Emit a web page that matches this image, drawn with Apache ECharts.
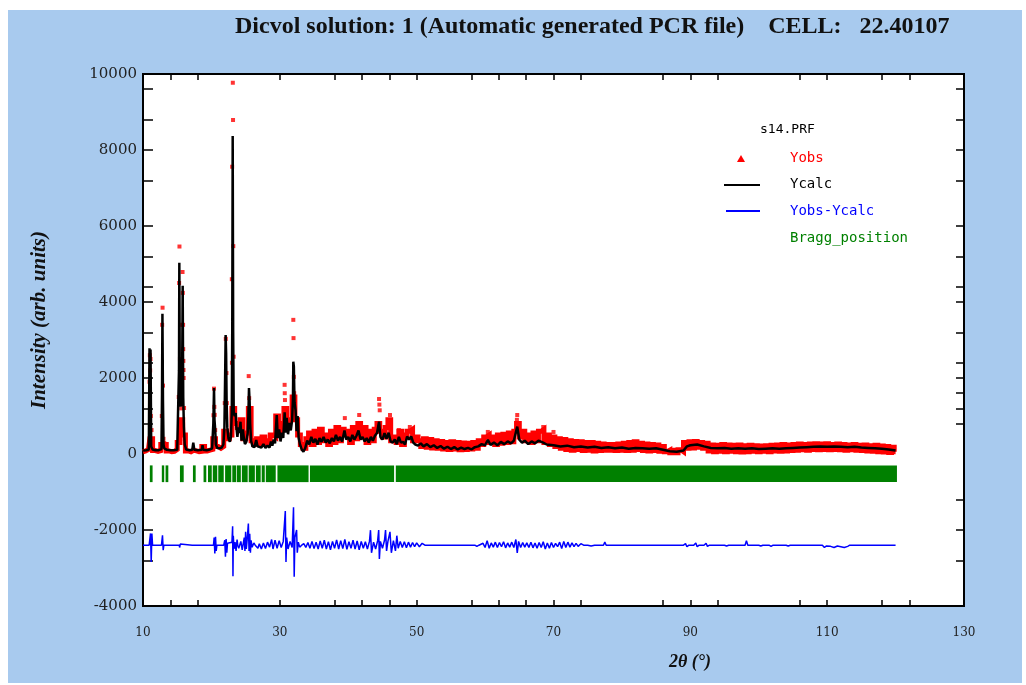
<!DOCTYPE html>
<html>
<head>
<meta charset="utf-8">
<script src="https://cdn.jsdelivr.net/npm/echarts@6/dist/echarts.min.js"></script>
<style>
  html, body { margin: 0; padding: 0; background: #fff; }
  #panel { position: absolute; left: 8px; top: 10px; width: 1014px; height: 673px; background: #a8caee; }
  #chart { position: absolute; left: 0; top: 0; width: 1026px; height: 685px; }
</style>
</head>
<body>
<div id="panel"></div>
<div id="chart"></div>
<script>
// 计算曲线 Ycalc [2θ, intensity]
const ycalc = [
  [10.0, 90], [10.5, 100], [10.85, 120], [10.95, 2780], [11.02, 1300], [11.1, 2750], [11.2, 200], [11.4, 120],
  [11.8, 100], [12.3, 100], [12.7, 130], [12.78, 1600], [12.84, 3690], [12.92, 1400], [13.0, 250], [13.1, 150],
  [13.5, 110], [14.0, 100], [14.5, 100], [15.0, 110], [15.2, 150], [15.26, 2200], [15.31, 5030], [15.38, 1800],
  [15.5, 1250], [15.65, 1400], [15.74, 2600], [15.8, 4430], [15.88, 1500], [15.98, 700], [16.1, 250], [16.3, 120],
  [16.8, 100], [17.2, 110], [17.35, 300], [17.5, 110], [18.0, 100], [18.6, 110], [18.7, 230], [18.8, 110],
  [19.3, 100], [19.8, 120], [20.1, 150], [20.28, 800], [20.38, 1737], [20.45, 900], [20.55, 650], [20.65, 250],
  [20.85, 160], [21.2, 150], [21.5, 170], [21.75, 250], [21.9, 700], [22.0, 2000], [22.08, 3130], [22.15, 2650],
  [22.22, 1400], [22.32, 700], [22.5, 400], [22.7, 320], [22.85, 450], [22.98, 1100], [23.05, 3500], [23.11, 8370],
  [23.18, 3200], [23.26, 1080], [23.4, 1000], [23.55, 1080], [23.65, 700], [23.8, 450], [23.95, 700], [24.1, 550],
  [24.25, 850], [24.4, 350], [24.6, 650], [24.75, 400], [24.9, 260], [25.1, 320], [25.3, 550], [25.4, 1000],
  [25.49, 1737], [25.58, 1400], [25.66, 800], [25.8, 350], [26.0, 200], [26.3, 180], [26.55, 370], [26.75, 200],
  [27.0, 240], [27.3, 170], [27.6, 260], [27.9, 160], [28.2, 220], [28.5, 170], [28.7, 330], [28.9, 220],
  [29.1, 380], [29.3, 280], [29.55, 1026], [29.7, 420], [29.9, 650], [30.1, 330], [30.3, 560], [30.5, 420],
  [30.7, 1100], [30.85, 560], [31.0, 950], [31.2, 520], [31.4, 820], [31.6, 620], [31.8, 900], [31.92, 1500],
  [31.97, 2430], [32.05, 2300], [32.15, 1350], [32.3, 1150], [32.45, 600], [32.6, 1000], [32.75, 420], [32.95, 250],
  [33.2, 120], [33.45, 60], [33.7, 150], [34.0, 350], [34.3, 250], [34.6, 450], [34.9, 300], [35.2, 400],
  [35.5, 250], [35.8, 420], [36.1, 320], [36.4, 450], [36.7, 300], [37.0, 380], [37.3, 280], [37.6, 420],
  [37.9, 330], [38.2, 500], [38.5, 350], [38.8, 450], [39.1, 330], [39.45, 620], [39.7, 380], [40.0, 450],
  [40.3, 330], [40.6, 500], [40.9, 380], [41.2, 480], [41.5, 620], [41.8, 380], [42.1, 450], [42.4, 330],
  [42.7, 420], [43.0, 300], [43.3, 450], [43.6, 350], [43.9, 480], [44.2, 550], [44.5, 850], [44.7, 450],
  [45.0, 380], [45.3, 550], [45.6, 400], [45.9, 560], [46.2, 330], [46.5, 300], [46.8, 380], [47.1, 260],
  [47.4, 450], [47.7, 300], [48.0, 320], [48.3, 250], [48.6, 460], [48.9, 380], [49.2, 460], [49.5, 300],
  [49.8, 250], [50.2, 220], [50.6, 280], [51.0, 200], [51.5, 260], [52.0, 180], [52.5, 230], [53.0, 160],
  [53.5, 210], [54.0, 140], [54.5, 190], [55.0, 130], [55.5, 180], [56.0, 120], [56.5, 170], [57.0, 130],
  [57.5, 160], [58.0, 120], [58.5, 180], [59.0, 200], [59.5, 260], [60.0, 230], [60.4, 370], [60.8, 240],
  [61.3, 300], [61.8, 230], [62.3, 320], [62.8, 260], [63.3, 330], [63.8, 280], [64.2, 350], [64.7, 720],
  [65.0, 380], [65.4, 300], [65.8, 350], [66.3, 260], [66.8, 330], [67.3, 280], [67.8, 350], [68.5, 300],
  [69.0, 250], [70, 230], [71, 200], [72, 220], [73, 180], [74, 200], [75, 170], [76, 190],
  [77, 160], [78, 180], [79, 150], [80, 170], [81, 140], [82, 160], [83, 150], [84, 140],
  [85, 150], [86, 110], [87, 70], [88, 60], [89, 90], [89.5, 200], [90, 230], [91, 250],
  [92, 200], [93, 160], [94, 150], [95, 160], [96, 140], [97, 150], [98, 140], [99, 150],
  [100, 130], [101, 140], [102, 150], [103, 140], [104, 150], [105, 160], [106, 170], [107, 180],
  [108, 190], [109, 200], [110, 190], [111, 200], [112, 190], [113, 180], [114, 190], [115, 170],
  [116, 160], [117, 150], [118, 140], [119, 120], [120, 90]
]

// 观测值 Yobs：背景带
const yobsBand = [
  [10.0, 60], [10.4, 80], [10.8, 120], [11.2, 400], [11.6, 90], [12.0, 70], [12.4, 90], [12.8, 250],
  [13.2, 250], [13.6, 80], [14.0, 60], [14.4, 70], [14.8, 120], [15.2, 300], [15.6, 900], [16.0, 500],
  [16.4, 80], [16.8, 60], [17.2, 100], [17.6, 80], [18.0, 60], [18.4, 70], [18.8, 200], [19.2, 80],
  [19.6, 100], [20.0, 120], [20.4, 400], [20.8, 200], [21.2, 150], [21.6, 200], [22.0, 600],
  [22.4, 400], [22.8, 500], [23.2, 1200], [23.6, 800], [24.0, 700], [24.4, 900], [24.8, 400], [25.2, 550],
  [25.6, 1200], [26.0, 350], [26.4, 250], [26.8, 400], [27.2, 250], [27.6, 450], [28.0, 250], [28.4, 350],
  [28.8, 500], [29.2, 450], [29.6, 1000], [30.0, 600], [30.4, 800], [30.8, 1200], [31.2, 800], [31.6, 900],
  [32.0, 1500], [32.4, 900], [32.8, 500], [33.2, 250], [33.6, 150], [34.0, 400],
  [34.4, 550], [34.8, 250], [35.2, 600], [35.6, 300], [36.0, 650], [36.4, 350], [36.8, 500], [37.2, 250],
  [37.6, 600], [38.0, 300], [38.4, 700], [38.8, 350], [39.2, 650], [39.6, 500], [40.0, 600], [40.4, 300],
  [40.8, 700], [41.2, 400], [41.6, 800], [42.0, 450], [42.4, 700], [42.8, 300], [43.2, 600], [43.6, 350],
  [44.0, 650], [44.4, 800], [44.8, 600], [45.2, 450], [45.6, 700], [46.0, 900], [46.4, 350], [46.8, 450],
  [47.2, 300], [47.6, 600], [48.0, 250], [48.4, 500], [48.8, 600], [49.2, 650], [49.6, 350], [50.0, 450],
  [50.4, 350], [50.8, 200], [51.2, 400], [51.6, 180], [52.0, 380], [52.4, 160], [52.8, 350], [53.2, 150],
  [53.6, 330], [54.0, 130], [54.4, 300], [54.8, 120], [55.2, 320], [55.6, 130], [56.0, 300], [56.4, 110],
  [56.8, 290], [57.2, 120], [57.6, 280], [58.0, 130], [58.4, 300], [58.8, 150], [59.2, 350], [59.6, 250],
  [60.0, 450], [60.4, 500], [60.8, 300], [61.2, 450], [61.6, 250], [62.0, 500], [62.4, 280], [62.8, 520],
  [63.2, 300], [63.6, 550], [64.0, 320], [64.4, 600], [64.8, 800], [65.2, 450], [65.6, 600], [66.0, 350],
  [66.4, 500], [66.8, 300], [67.2, 550], [67.6, 350], [68.0, 600], [68.4, 650], [68.8, 300], [69.2, 500],
  [69.6, 250], [70.0, 450], [70.4, 200], [70.8, 400], [71.2, 150], [71.6, 380], [72.0, 120], [72.4, 350],
  [72.8, 100], [73.2, 330], [73.6, 120], [74.0, 320], [74.4, 90], [74.8, 300], [75.2, 100], [75.6, 300],
  [76.0, 80], [76.4, 280], [76.8, 90], [77.2, 260], [77.6, 100], [78.0, 250], [78.4, 100], [78.8, 250],
  [79.2, 90], [79.6, 260], [80.0, 100], [80.4, 280], [80.8, 90], [81.2, 300], [81.6, 100], [82.0, 320],
  [82.4, 120], [82.8, 280], [83.2, 90], [83.6, 260], [84.0, 80], [84.4, 250], [84.8, 90], [85.2, 240],
  [85.6, 70], [86.0, 200], [86.4, 60], [86.8, 100], [87.2, 30], [87.6, 100], [88.0, 30], [88.4, 110],
  [88.8, 60], [89.2, 300], [89.6, 150], [90.0, 320], [90.4, 160], [90.8, 330], [91.2, 180], [91.6, 300],
  [92.0, 150], [92.4, 280], [92.8, 80], [93.2, 240], [93.6, 60], [94.0, 230], [94.4, 70], [94.8, 250],
  [95.2, 60], [95.6, 240], [96.0, 70], [96.4, 230], [96.8, 60], [97.2, 240], [97.6, 50], [98.0, 220],
  [98.4, 60], [98.8, 230], [99.2, 70], [99.6, 220], [100.0, 60], [100.4, 210], [100.8, 70], [101.2, 220],
  [101.6, 60], [102.0, 230], [102.4, 80], [102.8, 240], [103.2, 70], [103.6, 250], [104.0, 80], [104.4, 240],
  [104.8, 90], [105.2, 250], [105.6, 100], [106.0, 260], [106.4, 110], [106.8, 250], [107.2, 100], [107.6, 260],
  [108.0, 120], [108.4, 270], [108.8, 110], [109.2, 260], [109.6, 120], [110.0, 270], [110.4, 110], [110.8, 250],
  [111.2, 120], [111.6, 260], [112.0, 110], [112.4, 250], [112.8, 100], [113.2, 240], [113.6, 110], [114.0, 250],
  [114.4, 100], [114.8, 230], [115.2, 90], [115.6, 240], [116.0, 80], [116.4, 220], [116.8, 70], [117.2, 230],
  [117.6, 60], [118.0, 210], [118.4, 50], [118.8, 200], [119.2, 40], [119.6, 180], [120.0, 60]
]

// 观测值 Yobs：峰位附近的点
const yobsPeaks = [
  [10.9, 300], [10.95, 1900], [11.0, 2600], [11.05, 2200], [11.1, 2500], [11.15, 1000], [11.25, 630], [11.35, 200],
  [12.75, 1000], [12.8, 3400], [12.86, 3850], [12.92, 1800], [13.0, 400], [13.1, 290], [15.0, 290],
  [15.22, 1500], [15.28, 4500], [15.33, 5460], [15.4, 2500], [15.5, 1400], [15.6, 1200], [15.72, 3400],
  [15.78, 4790], [15.82, 4240], [15.86, 3400], [15.88, 2760], [15.9, 2450], [15.92, 2210], [15.94, 2000], [16.0, 1210],
  [16.1, 400], [20.25, 400], [20.3, 1020], [20.38, 1720], [20.43, 1240], [20.48, 1030], [20.55, 630],
  [21.95, 1340], [22.1, 3030], [22.2, 2130], [22.25, 1340], [22.98, 4600], [23.0, 2400], [23.03, 7560],
  [23.13, 9770], [23.16, 8790], [23.2, 5470], [23.25, 2560], [25.35, 700], [25.45, 2050], [25.52, 1470],
  [25.6, 1200], [30.6, 800], [30.7, 1820], [30.72, 1600], [30.75, 1420], [30.9, 700], [31.85, 1000],
  [31.97, 3530], [32.0, 3050], [32.05, 2030], [32.1, 1600], [32.12, 1420], [32.15, 1160], [39.5, 945],
  [41.6, 1026], [42.3, 710], [44.5, 1447], [44.55, 1300], [44.6, 1150], [46.1, 1026], [47.4, 630],
  [49.0, 710], [60.4, 580], [64.65, 900], [64.7, 1026], [64.75, 800], [68.5, 710], [70.0, 580]
]

// 差值曲线 Yobs-Ycalc（相对值）
const diffOffset = -2400
const ydiff = [
  [10, 0], [10.9, 0], [11.0, -50], [11.1, 310], [11.2, -440], [11.3, 310], [11.4, 0],
  [12.7, 0], [12.85, 260], [12.95, -130], [13.05, 0], [15.3, 0], [15.35, -60], [15.45, 30], [15.55, 0],
  [17.2, 0], [20.3, 0], [20.4, 200], [20.5, -220], [20.6, 220], [20.7, -150], [20.8, 0],
  [21.8, 0], [21.95, 130], [22.05, -300], [22.15, 160], [22.25, -200], [22.35, 50], [22.5, 0],
  [23.0, 80], [23.1, 500], [23.15, -820], [23.2, 250], [23.3, -100], [23.45, 80], [23.6, -150], [23.75, 150], [23.85, 0],
  [24.0, -80], [24.3, 100], [24.5, -120], [24.8, 200], [24.9, -150], [25.0, 350], [25.1, -100], [25.25, 200],
  [25.4, 570], [25.5, -150], [25.6, 300], [25.7, -200], [25.8, 130], [25.95, -50], [26.2, 60], [26.4, 0],
  [26.8, -80], [27.0, 40], [27.3, -100], [27.6, 60], [27.9, -90], [28.2, 80], [28.5, -50], [28.8, 150],
  [29.0, -100], [29.3, 130], [29.6, -80], [29.9, 120], [30.2, -60], [30.5, 100], [30.8, 900], [30.9, -440],
  [31.0, 200], [31.2, -100], [31.5, 100], [31.8, -60], [32.0, 1000], [32.1, -830], [32.2, 200], [32.45, 400],
  [32.55, -200], [32.7, 80], [32.9, -50], [33.2, 0], [33.5, 40], [33.8, -60], [34.1, 70], [34.4, -80],
  [34.7, 100], [35.0, -90], [35.3, 80], [35.6, -100], [35.9, 110], [36.2, -80], [36.5, 130], [36.8, -100],
  [37.1, 90], [37.4, -120], [37.7, 100], [38.0, -80], [38.3, 140], [38.6, -100], [38.9, 120], [39.2, -90],
  [39.5, 150], [39.8, -110], [40.1, 90], [40.4, -80], [40.7, 130], [41.0, -100], [41.3, 110], [41.6, -120],
  [41.9, 100], [42.2, -80], [42.5, 90], [42.8, -100], [43.1, 100], [43.25, 395], [43.4, -200], [43.7, 80],
  [44.0, -100], [44.3, 120], [44.45, 400], [44.55, -360], [44.7, 100], [45.0, -80], [45.3, 130], [45.45, 400],
  [45.6, -150], [45.8, 100], [46.1, 350], [46.3, -200], [46.6, 120], [46.9, -150], [47.1, 250], [47.3, -80],
  [47.6, 100], [47.9, -60], [48.2, 90], [48.5, -70], [48.8, 80], [49.1, -50], [49.4, 70], [49.7, -40],
  [50.0, 60], [50.4, -40], [50.8, 50], [51.2, 0], [52.0, 0], [52.2, -40], [52.4, 0], [54.0, 0],
  [54.2, 30], [54.4, 0], [55.5, 0], [55.7, -30], [55.9, 0], [58.5, 0], [58.8, -30], [59.1, 0],
  [59.7, 50], [60.0, -60], [60.3, 120], [60.6, -80], [60.9, 60], [61.2, -50], [61.5, 80], [61.8, -60],
  [62.1, 70], [62.4, -40], [62.7, 90], [63.0, -70], [63.3, 60], [63.6, -50], [63.9, 80], [64.2, -60],
  [64.5, 150], [64.7, -200], [64.9, 100], [65.2, -60], [65.5, 70], [65.8, -50], [66.1, 60], [66.4, -60],
  [66.7, 80], [67.0, -70], [67.3, 60], [67.6, -80], [67.9, 70], [68.2, -60], [68.5, 90], [68.8, -100],
  [69.1, 60], [69.4, -80], [69.7, 70], [70.0, -60], [70.3, 50], [70.6, -40], [70.9, 80], [71.2, -90],
  [71.5, 100], [71.8, -60], [72.1, 80], [72.4, -50], [72.7, 60], [73.0, -40], [73.3, 50], [73.6, -30],
  [74.0, 40], [74.4, 0], [75.0, 0], [75.5, -20], [76.0, 0], [77.3, 0], [77.5, 80], [77.7, 0],
  [78.2, 0], [78.4, -30], [78.6, 0], [80.0, 0], [80.2, -20], [80.4, 0], [83.0, 0], [83.2, -20],
  [83.4, 0], [86.0, 0], [86.2, -20], [86.4, 0], [89.0, 0], [89.3, 40], [89.5, -40], [89.8, 0],
  [90.5, 0], [90.8, 60], [91.0, -40], [91.3, 0], [92.0, 0], [92.3, 50], [92.5, -30], [92.8, 0],
  [95.0, 0], [95.3, -20], [95.6, 0], [98.0, 0], [98.2, 120], [98.4, 0], [100.0, 0], [100.3, -20],
  [100.6, 0], [101.5, 0], [101.8, -30], [102.1, 0], [104.0, 0], [104.3, -20], [104.6, 0], [109.3, 0],
  [109.6, -60], [109.9, -20], [110.5, -30], [111.0, -60], [111.5, -20], [112.0, -40], [112.5, -60], [113.0, -30],
  [113.3, 0], [120, 0]
]

// 布拉格衍射位置（合并后的区间，2θ）
const braggTop = -300
const braggBottom = -740
const braggRanges = [
  [11.0, 11.4], [12.75, 13.1], [13.3, 13.7], [15.4, 15.95], [17.3, 17.7], [18.85, 19.25], [19.5, 20.05],
  [20.2, 20.85], [21.0, 21.8], [22.0, 22.9], [23.05, 23.6], [23.7, 24.3], [24.45, 25.3], [25.45, 26.35],
  [26.5, 27.2], [27.35, 27.8], [27.95, 29.4], [29.65, 34.2], [34.4, 46.7], [46.95, 120.2]
]

// 坐标轴刻度
const xLabelValues = [10, 30, 50, 70, 90, 110, 130]
const xTickValues = [14, 18, 30, 38, 42, 46, 50, 58, 62, 66, 70, 74, 86, 90, 94, 106, 110, 118, 122]
const yTickValues = [9600, 8800, 8000, 7200, 6000, 5200, 4400, 4000, 3200, 2400, 2000, 1600, 1200, 800, -1200, -2000, -2800]

const chart = echarts.init(document.getElementById("chart"))

const tickStyle = { color: "#000", width: 1.5 }
const labelFont = "DejaVu Serif"

const option = {
  animation: false,
  grid: {
    left: 143,
    top: 74,
    right: 62,
    bottom: 79,
    show: true,
    backgroundColor: "#fff",
    borderColor: "#000",
    borderWidth: 2
  },
  title: {
    text: "Dicvol solution: 1 (Automatic generated PCR file)    CELL:   22.40107",
    left: 230,
    top: 10,
    textStyle: {
      fontFamily: "Liberation Serif",
      fontWeight: "bold",
      fontSize: 24,
      color: "#111"
    }
  },
  xAxis: [
    {
      type: "value",
      min: 10,
      max: 130,
      interval: 20,
      axisLine: { show: false, onZero: false },
      splitLine: { show: false },
      axisTick: { show: true, inside: true, length: 6, lineStyle: tickStyle, customValues: xTickValues },
      axisLabel: { customValues: xLabelValues, margin: 21, fontFamily: labelFont, fontSize: 12, color: "#222" }
    },
    {
      type: "value",
      position: "top",
      min: 10,
      max: 130,
      axisLine: { show: false, onZero: false },
      splitLine: { show: false },
      axisTick: { show: true, inside: true, length: 6, lineStyle: tickStyle, customValues: xTickValues },
      axisLabel: { show: false }
    }
  ],
  yAxis: [
    {
      type: "value",
      min: -4000,
      max: 10000,
      interval: 2000,
      axisLine: { show: false, onZero: false },
      splitLine: { show: false },
      axisTick: { show: true, inside: true, length: 10, lineStyle: tickStyle, customValues: yTickValues },
      axisLabel: {
        margin: 6,
        fontFamily: labelFont,
        fontSize: 15,
        color: "#222",
        formatter: v => String(v)
      }
    },
    {
      type: "value",
      position: "right",
      min: -4000,
      max: 10000,
      axisLine: { show: false, onZero: false },
      splitLine: { show: false },
      axisTick: { show: true, inside: true, length: 8, lineStyle: tickStyle, customValues: yTickValues },
      axisLabel: { show: false }
    }
  ],
  series: [
    {
      name: "Yobs",
      type: "line",
      data: yobsBand,
      step: "middle",
      showSymbol: false,
      lineStyle: { color: "#ff0000", width: 5, cap: "butt", join: "miter" },
      z: 2
    },
    {
      name: "Yobs",
      type: "scatter",
      data: yobsPeaks,
      symbol: "rect",
      symbolSize: 4,
      itemStyle: { color: "#ff0000" },
      z: 2
    },
    {
      name: "Ycalc",
      type: "line",
      data: ycalc,
      showSymbol: false,
      lineStyle: { color: "#000", width: 2.5 },
      z: 3
    },
    {
      name: "Yobs-Ycalc",
      type: "line",
      data: ydiff.map(d => [d[0], d[1] + diffOffset]),
      showSymbol: false,
      lineStyle: { color: "#0000ff", width: 1.5 },
      z: 3
    },
    {
      name: "Bragg_position",
      type: "custom",
      data: braggRanges,
      encode: { x: [0, 1] },
      renderItem: function (params, api) {
        const p0 = api.coord([api.value(0), braggTop])
        const p1 = api.coord([api.value(1), braggBottom])
        return {
          type: "rect",
          shape: { x: p0[0], y: p0[1], width: Math.max(p1[0] - p0[0], 2), height: p1[1] - p0[1] },
          style: { fill: "#008000" }
        }
      },
      z: 2
    }
  ],
  graphic: [
    {
      type: "text",
      x: 40,
      y: 320,
      rotation: Math.PI / 2,
      style: {
        text: "Intensity (arb. units)",
        font: 'italic bold 21px "Liberation Serif"',
        fill: "#111",
        align: "center",
        verticalAlign: "middle"
      }
    },
    {
      type: "text",
      x: 690,
      y: 662,
      style: {
        text: "2θ (°)",
        font: 'italic bold 18px "Liberation Serif"',
        fill: "#111",
        align: "center",
        verticalAlign: "middle"
      }
    },
    // 图例
    {
      type: "text",
      x: 760,
      y: 130,
      style: { text: "s14.PRF", font: '13px "DejaVu Sans Mono"', fill: "#000", verticalAlign: "middle" }
    },
    {
      type: "polygon",
      shape: { points: [[741, 155], [745, 162], [737, 162]] },
      style: { fill: "#ff0000" }
    },
    {
      type: "text",
      x: 790,
      y: 158,
      style: { text: "Yobs", font: '14px "DejaVu Sans Mono"', fill: "#ff0000", verticalAlign: "middle" }
    },
    {
      type: "line",
      shape: { x1: 724, y1: 185, x2: 760, y2: 185 },
      style: { stroke: "#000", lineWidth: 2 }
    },
    {
      type: "text",
      x: 790,
      y: 184,
      style: { text: "Ycalc", font: '14px "DejaVu Sans Mono"', fill: "#000", verticalAlign: "middle" }
    },
    {
      type: "line",
      shape: { x1: 726, y1: 211, x2: 760, y2: 211 },
      style: { stroke: "#0000ff", lineWidth: 2 }
    },
    {
      type: "text",
      x: 790,
      y: 211,
      style: { text: "Yobs-Ycalc", font: '14px "DejaVu Sans Mono"', fill: "#0000ff", verticalAlign: "middle" }
    },
    {
      type: "text",
      x: 790,
      y: 238,
      style: { text: "Bragg_position", font: '14px "DejaVu Sans Mono"', fill: "#008000", verticalAlign: "middle" }
    }
  ]
}

chart.setOption(option)
</script>
</body>
</html>
